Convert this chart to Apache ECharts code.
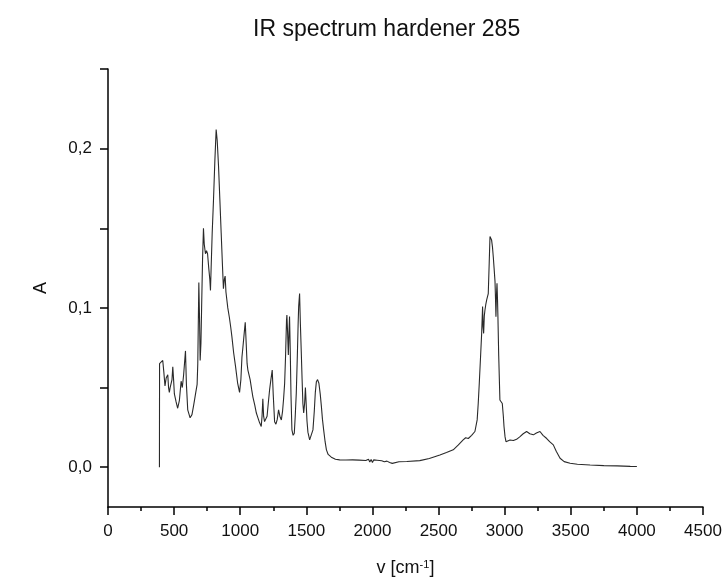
<!DOCTYPE html>
<html>
<head>
<meta charset="utf-8">
<script src="https://cdn.jsdelivr.net/npm/echarts@6/dist/echarts.min.js"></script>
<style>
html,body{margin:0;padding:0;background:#fff;}
#chart{width:727px;height:583px;}
</style>
</head>
<body>
<div id="chart"></div>
<script>
// Wavenumber (cm^-1) and absorbance
const wavenumbers = [
  389, 390, 396, 405, 414, 422, 431, 440, 452, 458, 464, 470, 476, 484, 490, 496, 502, 515, 527, 540,
  553, 562, 572, 586, 593, 603, 621, 635, 646, 654, 662, 667, 674, 679, 687, 693, 697, 703, 708, 715,
  722, 728, 737, 745, 753, 762, 770, 775, 780, 788, 798, 808, 818, 826, 836, 846, 856, 865, 873, 880,
  886, 892, 899, 906, 918, 928, 937, 950, 965, 980, 995, 1005, 1013, 1020, 1030, 1038, 1045, 1052, 1058, 1066,
  1075, 1086, 1096, 1110, 1122, 1134, 1146, 1159, 1165, 1171, 1177, 1184, 1193, 1203, 1212, 1222, 1232, 1242, 1250, 1260,
  1270, 1280, 1290, 1300, 1311, 1320, 1328, 1336, 1343, 1350, 1353, 1358, 1364, 1369, 1373, 1378, 1384, 1391, 1400, 1409,
  1416, 1424, 1432, 1438, 1442, 1449, 1455, 1462, 1468, 1474, 1480, 1487, 1493, 1500, 1505, 1512, 1525, 1537, 1550, 1560,
  1568, 1576, 1585, 1595, 1605, 1614, 1622, 1631, 1642, 1652, 1665, 1689, 1720, 1752, 1800, 1850, 1900, 1950, 1970, 1980,
  1990, 2000, 2010, 2020, 2035, 2050, 2070, 2090, 2110, 2130, 2140, 2150, 2160, 2200, 2260, 2358, 2430, 2510, 2560, 2611,
  2650, 2686, 2705, 2725, 2750, 2775, 2792, 2800, 2808, 2818, 2826, 2833, 2837, 2841, 2846, 2851, 2857, 2864, 2876, 2883,
  2889, 2895, 2901, 2908, 2914, 2920, 2927, 2931, 2934, 2938, 2942, 2946, 2949, 2955, 2964, 2982, 2990, 2995, 3003, 3010,
  3025, 3040, 3055, 3066, 3090, 3116, 3140, 3166, 3190, 3217, 3240, 3267, 3290, 3318, 3340, 3368, 3390, 3419, 3450, 3495,
  3550, 3646, 3750, 3850, 3950, 4000
];
const absorbance = [
  0.000, 0.065, 0.066, 0.064, 0.067, 0.060, 0.051, 0.056, 0.058, 0.050, 0.047, 0.050, 0.049, 0.055, 0.063, 0.055, 0.046, 0.041, 0.037, 0.042,
  0.054, 0.050, 0.058, 0.073, 0.052, 0.036, 0.031, 0.033, 0.038, 0.042, 0.046, 0.045, 0.052, 0.065, 0.116, 0.090, 0.067, 0.078, 0.100, 0.130,
  0.150, 0.140, 0.134, 0.136, 0.134, 0.125, 0.118, 0.111, 0.125, 0.147, 0.168, 0.192, 0.212, 0.205, 0.189, 0.168, 0.147, 0.128, 0.112, 0.118,
  0.120, 0.110, 0.105, 0.100, 0.094, 0.088, 0.082, 0.072, 0.063, 0.053, 0.047, 0.055, 0.069, 0.075, 0.084, 0.091, 0.078, 0.065, 0.061, 0.062,
  0.055, 0.049, 0.044, 0.039, 0.034, 0.031, 0.028, 0.0255, 0.032, 0.043, 0.032, 0.0286, 0.029, 0.032, 0.040, 0.0485, 0.055, 0.061, 0.045, 0.0286,
  0.027, 0.030, 0.036, 0.032, 0.0296, 0.035, 0.043, 0.0527, 0.070, 0.092, 0.0956, 0.085, 0.0705, 0.085, 0.0946, 0.075, 0.045, 0.0234, 0.020, 0.0213,
  0.032, 0.0465, 0.070, 0.090, 0.1008, 0.109, 0.090, 0.0716, 0.055, 0.040, 0.034, 0.040, 0.050, 0.0506, 0.029, 0.022, 0.0171, 0.018, 0.0234, 0.035,
  0.047, 0.0537, 0.055, 0.0527, 0.046, 0.038, 0.030, 0.0234, 0.016, 0.0109, 0.008, 0.0063, 0.005, 0.0046, 0.0045, 0.0046, 0.0044, 0.0042, 0.0050, 0.0032,
  0.0048, 0.0030, 0.0046, 0.0034, 0.0044, 0.0036, 0.0040, 0.0034, 0.0038, 0.0030, 0.0040, 0.0024, 0.0036, 0.0034, 0.0036, 0.0041, 0.0055, 0.0077, 0.0092, 0.0109,
  0.014, 0.0171, 0.0185, 0.018, 0.020, 0.0224, 0.0297, 0.040, 0.0527, 0.070, 0.084, 0.1008, 0.088, 0.084, 0.095, 0.0987, 0.102, 0.105, 0.109, 0.128,
  0.1448, 0.145, 0.1427, 0.138, 0.132, 0.125, 0.1165, 0.105, 0.0945, 0.108, 0.1155, 0.105, 0.0945, 0.070, 0.0422, 0.040, 0.032, 0.0255, 0.019, 0.016,
  0.017, 0.0171, 0.016, 0.0167, 0.0175, 0.0192, 0.021, 0.0224, 0.021, 0.0203, 0.0215, 0.0224, 0.020, 0.018, 0.016, 0.014, 0.010, 0.0056, 0.0035, 0.0025,
  0.0018, 0.0014, 0.0010, 0.0008, 0.0005, 0.0004
];
const yTickValues = [0, 0.05, 0.1, 0.15, 0.2, 0.25];
const yLabelValues = [0, 0.1, 0.2];
const titleText = 'IR spectrum hardener 285';

const seriesData = wavenumbers.map((w, i) => [w, absorbance[i]]);

const chart = echarts.init(document.getElementById('chart'), null, {renderer: 'canvas'});
const font = 'Liberation Sans, Arial, sans-serif';
chart.setOption({
  animation: false,
  backgroundColor: '#ffffff',
  title: {
    text: titleText,
    left: 248,
    top: 13,
    textStyle: {fontFamily: font, fontSize: 23, fontWeight: 'normal', color: '#111'}
  },
  grid: {left: 108, right: 24, top: 69, bottom: 76, containLabel: false},
  xAxis: {
    type: 'value',
    min: 0, max: 4500, interval: 500,
    name: 'v [cm{sup|-1}]',
    nameLocation: 'middle',
    nameGap: 52,
    nameTextStyle: {
      fontFamily: font, fontSize: 18, color: '#111',
      rich: {sup: {fontFamily: font, fontSize: 11, color: '#111', verticalAlign: 'top', lineHeight: 10}}
    },
    axisLine: {show: true, onZero: false, lineStyle: {color: '#000', width: 1.5}},
    axisTick: {show: true, inside: false, length: 8, lineStyle: {color: '#000', width: 1.5}},
    minorTick: {show: true, splitNumber: 2, length: 4, lineStyle: {color: '#000', width: 1.5}},
    axisLabel: {fontFamily: font, fontSize: 17, color: '#111', margin: 16, formatter: v => String(v)},
    splitLine: {show: false},
    minorSplitLine: {show: false}
  },
  yAxis: {
    type: 'value',
    min: -0.025, max: 0.25,
    name: 'A',
    nameLocation: 'middle',
    nameGap: 58,
    nameTextStyle: {fontFamily: font, fontSize: 18, color: '#111'},
    axisLine: {show: true, onZero: false, lineStyle: {color: '#000', width: 1.5}},
    axisTick: {show: true, inside: false, length: 8, customValues: yTickValues, lineStyle: {color: '#000', width: 1.5}},
    axisLabel: {
      fontFamily: font, fontSize: 17, color: '#111', margin: 16,
      customValues: yLabelValues,
      formatter: v => v.toFixed(1).replace('.', ',')
    },
    splitLine: {show: false}
  },
  series: [{
    type: 'line',
    data: seriesData,
    showSymbol: false,
    symbol: 'none',
    lineStyle: {color: '#2a2a2a', width: 1.1},
    clip: true
  }]
});
</script>
</body>
</html>
